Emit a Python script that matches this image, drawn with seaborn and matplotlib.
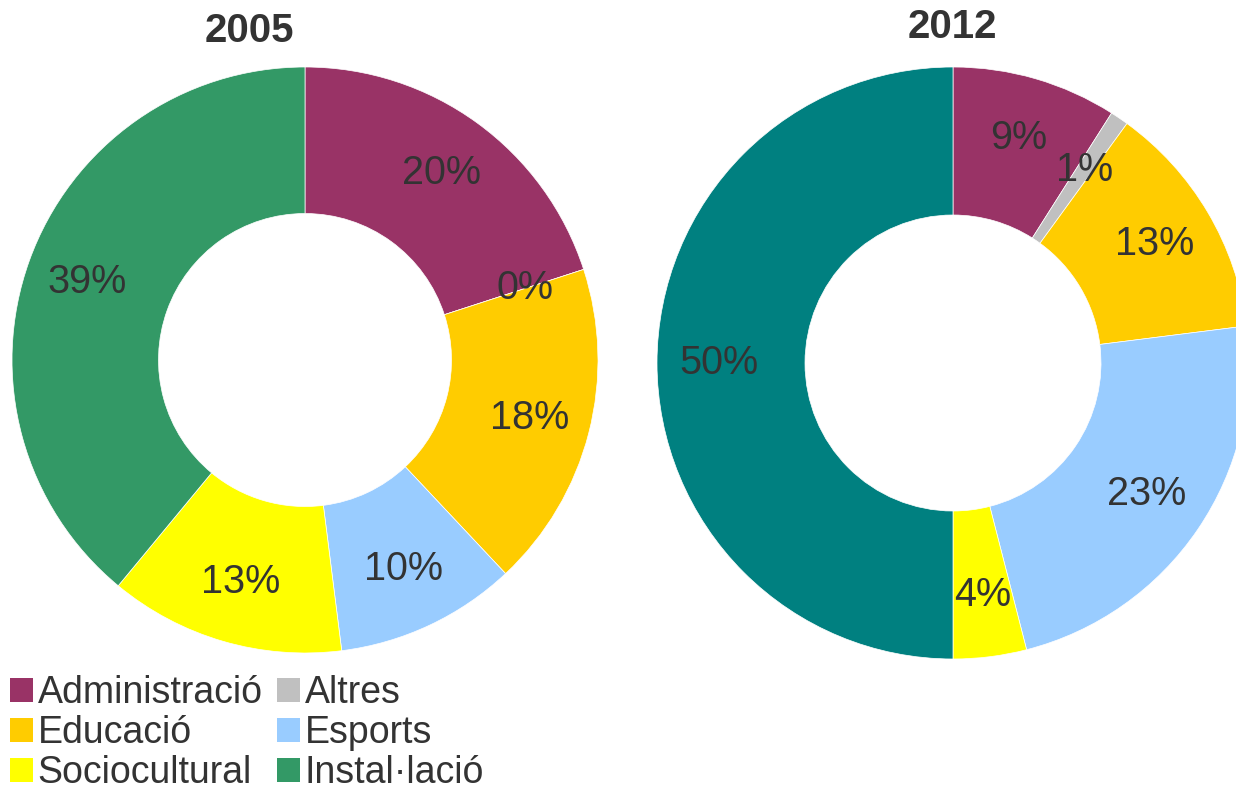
import matplotlib
matplotlib.use("Agg")
import matplotlib.pyplot as plt
from matplotlib.patches import Patch
import seaborn as sns

sns.set_theme(style="white")
plt.rcParams["font.family"] = ["Liberation Sans", "DejaVu Sans"]

categories = ["Administració", "Altres", "Educació", "Esports", "Sociocultural", "Instal·lació"]
values_2005 = [20, 0, 18, 10, 13, 39]
values_2012 = [9, 1, 13, 23, 4, 50]
colors_2005 = ["#993366", "#C0C0C0", "#FFCC00", "#99CCFF", "#FFFF00", "#339966"]
colors_2012 = ["#993366", "#C0C0C0", "#FFCC00", "#99CCFF", "#FFFF00", "#008080"]
titles = ["2005", "2012"]

TEXT = "#333333"
W, H = 1236, 794
fig = plt.figure(figsize=(W / 100, H / 100), dpi=100)


def donut_axes(cx, cy, r):
    return fig.add_axes([(cx - r) / W, (H - cy - r) / H, 2 * r / W, 2 * r / H])


def donut(ax, vals, cols):
    wedges, _, autotexts = ax.pie(
        vals, colors=cols, startangle=90, counterclock=False,
        radius=1.0, autopct=lambda p: f"{p:.0f}%", pctdistance=0.79,
        wedgeprops=dict(width=0.5, edgecolor="white", linewidth=0.5),
        textprops=dict(color=TEXT, fontsize=28.5),
    )
    ax.set_xlim(-1, 1)
    ax.set_ylim(-1, 1)
    ax.set_aspect("equal")
    ax.axis("off")
    return wedges


ax1 = donut_axes(305, 360, 293)
donut(ax1, values_2005, colors_2005)
ax2 = donut_axes(953, 363, 296)
donut(ax2, values_2012, colors_2012)

fig.text(249 / W, 1 - 31 / H, titles[0], ha="center", va="center",
         fontsize=29, fontweight="bold", color=TEXT)
fig.text(952 / W, 1 - 27 / H, titles[1], ha="center", va="center",
         fontsize=29, fontweight="bold", color=TEXT)

# legend laid out column-major: left column then right column
order = [0, 2, 4, 1, 3, 5]
handles = [Patch(facecolor=colors_2005[i], edgecolor="none") for i in order]
labels = [categories[i] for i in order]
fig.legend(handles, labels, loc="upper left", bbox_to_anchor=(10 / W, 1 - 675 / H),
           ncol=2, frameon=False, fontsize=27, labelcolor=TEXT,
           handlelength=0.62, handleheight=0.62, handletextpad=0.12,
           columnspacing=0.38, labelspacing=0.11, borderpad=0, borderaxespad=0)

fig.savefig("out.png", dpi=100)
